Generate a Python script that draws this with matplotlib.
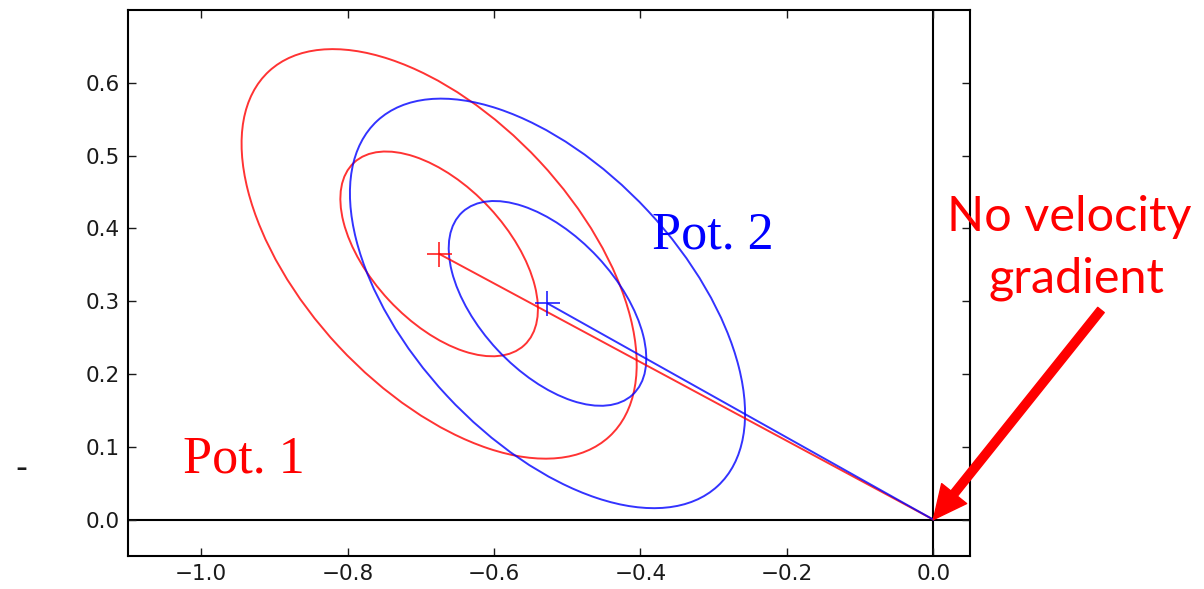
import matplotlib
matplotlib.use("Agg")
import matplotlib.pyplot as plt
from matplotlib.patches import Ellipse

# centres of the two potentials (data coords)
pot_names = ["Pot. 1", "Pot. 2"]
pot_colors = ["red", "blue"]
center_x = [-0.675, -0.527]
center_y = [0.365, 0.297]

# 1-sigma ellipse shape (semi axes), 2-sigma is twice that
semi_major = [0.171, 0.171]
semi_minor = [0.0935, 0.0935]
angle_deg = [-47.2, -47.2]
sigma_levels = [1, 2]

# label positions
label_x = [-1.025, -0.384]
label_y = [0.065, 0.373]

xticks = [-1.0, -0.8, -0.6, -0.4, -0.2, 0.0]
yticks = [0.0, 0.1, 0.2, 0.3, 0.4, 0.5, 0.6]

fig = plt.figure(figsize=(12.04, 5.89), dpi=100)
ax = fig.add_axes([0.1063, 0.056, 0.6993, 0.927])

ax.axhline(0, color="black", lw=1.5, zorder=1)
ax.axvline(0, color="black", lw=1.5, zorder=1)

for i in range(len(pot_names)):
    for s in sigma_levels:
        e = Ellipse((center_x[i], center_y[i]),
                    width=2 * s * semi_major[i], height=2 * s * semi_minor[i],
                    angle=angle_deg[i], fill=False,
                    edgecolor=pot_colors[i], lw=1.4, alpha=0.8)
        ax.add_patch(e)
    ax.plot([center_x[i], 0.0], [center_y[i], 0.0], color=pot_colors[i], lw=1.4, alpha=0.8)
    ax.plot(center_x[i], center_y[i], marker="+", markersize=18, mew=1.3,
            color=pot_colors[i], alpha=0.8)
    ax.text(label_x[i], label_y[i], pot_names[i], color=pot_colors[i],
            fontsize=37.5, family="Liberation Serif")

ax.set_xlim(-1.1, 0.05)
ax.set_ylim(-0.05, 0.7)
ax.set_xticks(xticks)
ax.set_yticks(yticks)
ax.tick_params(direction="in", length=6, width=1, top=True, right=True,
               labelsize=15.5, colors="#1a1a1a", pad=6)
for sp in ax.spines.values():
    sp.set_linewidth(1.5)

# annotation with arrow to the origin
ax.annotate("", xy=(0.0, 0.0), xytext=(0.229, 0.288),
            arrowprops=dict(arrowstyle="simple,head_width=2.3,head_length=2.4,tail_width=0.6",
                            color="red", shrinkA=0, shrinkB=0, mutation_scale=10),
            annotation_clip=False)
fig.text(1069 / 1204, 1 - 231 / 589, "No velocity", color="red", fontsize=35,
         family="Lato", ha="center", va="baseline")
fig.text(1076 / 1204, 1 - 293 / 589, "gradient", color="red", fontsize=35,
         family="Lato", ha="center", va="baseline")

fig.text(21 / 1204, 1 - 469 / 589, "-", fontsize=24, color="#1a1a1a",
         ha="center", va="center")

fig.savefig("out.png", dpi=100)
